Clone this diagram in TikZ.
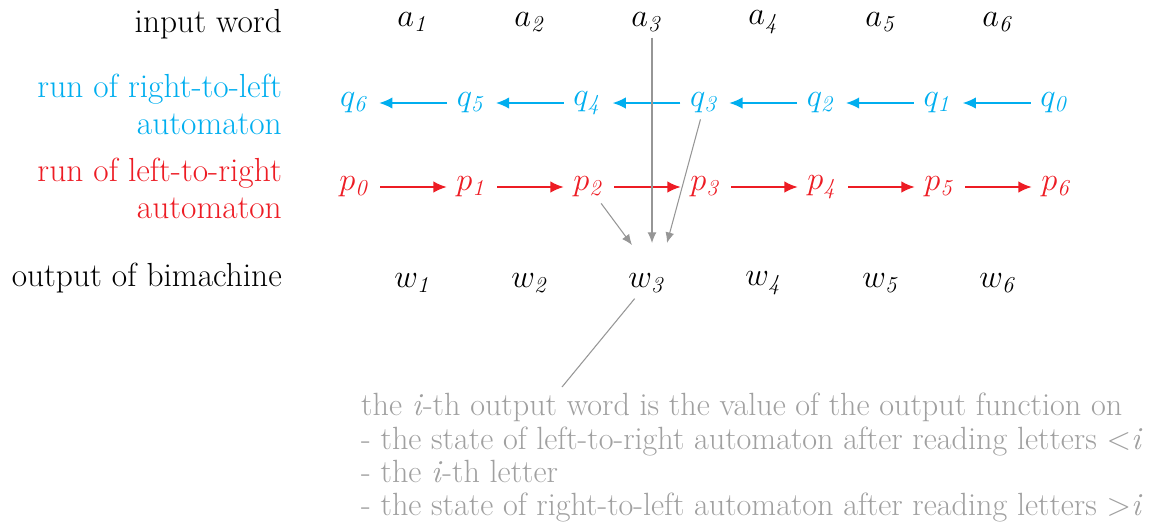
\RequirePackage{fix-cm}
\documentclass[tikz,border=0pt]{standalone}
\usetikzlibrary{arrows.meta}

\definecolor{rtlblue}{RGB}{0,174,239}
\definecolor{ltrred}{RGB}{237,28,36}
\definecolor{linkgray}{RGB}{150,150,150}
\definecolor{notegray}{RGB}{160,160,160}

\begin{document}
\begin{tikzpicture}[x=0.02cm,y=-0.02cm,
    every node/.style={font=\fontsize{18.5}{21}\selectfont},
    rowlabel/.style={anchor=east,align=right,font=\fontsize{19}{21}\selectfont},
    rtledge/.style={draw=rtlblue,line width=.85pt,-{Latex[length=7.5pt,width=6.5pt]},shorten >=2pt,shorten <=2pt},
    ltredge/.style={draw=ltrred,line width=.85pt,-{Latex[length=7.5pt,width=6.5pt]},shorten >=2pt,shorten <=2pt},
    linkedge/.style={draw=linkgray,line width=.6pt,-{Latex[length=6pt,width=5pt]}}]
  \useasboundingbox (0,0) rectangle (1164,529);

  % row labels
  \node[rowlabel] (lin) at (288,24) {input word};
  \node[rowlabel,text=rtlblue] (lrtl) at (288,104) {run of right-to-left\\automaton};
  \node[rowlabel,text=ltrred] (lltr) at (288,188) {run of left-to-right\\automaton};
  \node[rowlabel] (lout) at (288,278) {output of bimachine};

  % letters and output words
  \foreach \i in {1,...,6} {
    \node (a\i) at (413.5+117*\i-117,22) {$a_{\mathit{\i}}$};
    \node (w\i) at (413.5+117*\i-117,283) {$w_{\mathit{\i}}$};
  }

  % the two runs
  \foreach \k in {0,...,6} {
    \node[text=rtlblue] (q\k) at (1055-116.7*\k,103) {$q_{\mathit{\k}}$};
    \node[text=ltrred] (p\k) at (355+117*\k,187) {$p_{\mathit{\k}}$};
  }
  \foreach \k [evaluate=\k as \n using int(\k+1)] in {0,...,5} {
    \draw[rtledge] (q\k) -- (q\n);
    \draw[ltredge] (p\k) -- (p\n);
  }

  % what w3 depends on
  \coordinate (w3l) at (632,245);
  \coordinate (w3m) at (652,243);
  \coordinate (w3r) at (667,243);
  \draw[linkedge] (a3.south -| w3m) -- (w3m);
  \draw[linkedge] (q3) -- (w3r);
  \draw[linkedge] (p2) -- (w3l);

  \node[anchor=north west,align=left,text=notegray,
        font=\fontsize{18.3}{19}\selectfont] (note) at (355,387)
    {the \textit{i}-th output word is the value of the output function on\\
     - the state of left-to-right automaton after reading letters \textless\textit{i}\\
     - the \textit{i}-th letter\\
     - the state of right-to-left automaton after reading letters \textgreater\textit{i}};
  \draw[draw=linkgray,line width=.6pt] (w3) -- (note.north west -| 562,0);
\end{tikzpicture}
\end{document}
